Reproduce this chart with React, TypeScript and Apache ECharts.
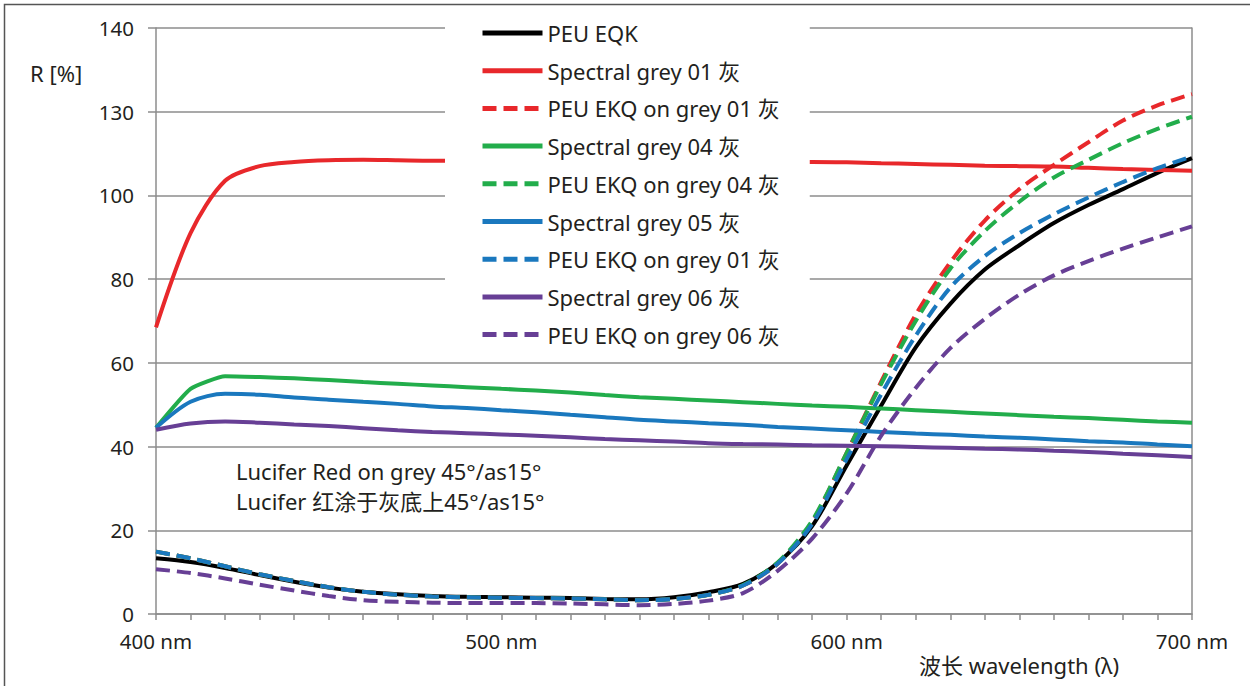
import React, { useEffect, useRef } from "react";
import * as echarts from "echarts";

const wavelengths = [400, 410, 420, 430, 440, 450, 460, 470, 480, 490, 500, 510, 520, 530, 540, 550, 560, 570, 580, 590, 600, 610, 620, 630, 640, 650, 660, 670, 680, 690, 700];

const peuEqk = [13.3, 12.4, 11.0, 9.3, 7.7, 6.3, 5.3, 4.7, 4.3, 4.1, 4.0, 3.9, 3.8, 3.6, 3.5, 4.0, 5.2, 7.2, 12.2, 21.0, 35.5, 49.8, 63.7, 74.1, 82.3, 88.1, 93.4, 97.7, 101.5, 105.4, 108.9];
const spectral01 = [68.5, 91.0, 103.5, 107.0, 108.0, 108.4, 108.5, 108.4, 108.3, 108.3, 108.3, 108.3, 108.2, 108.2, 108.2, 108.1, 108.1, 108.1, 108.0, 108.0, 107.9, 107.7, 107.5, 107.3, 107.1, 107.0, 106.9, 106.6, 106.3, 106.1, 105.9];
const peuOnGrey01 = [14.9, 13.3, 11.4, 9.5, 7.9, 6.4, 5.3, 4.6, 4.2, 4.0, 3.9, 3.8, 3.7, 3.5, 3.3, 3.6, 4.6, 6.8, 12.0, 22.0, 38.5, 55.5, 71.5, 84.0, 94.0, 101.5, 107.3, 112.7, 117.9, 121.5, 124.2];
const spectral04 = [44.5, 53.8, 56.8, 56.6, 56.3, 55.9, 55.4, 55.0, 54.6, 54.2, 53.8, 53.4, 52.9, 52.3, 51.8, 51.4, 51.0, 50.6, 50.2, 49.8, 49.5, 49.1, 48.7, 48.3, 47.9, 47.5, 47.1, 46.8, 46.4, 46.0, 45.7];
const peuOnGrey04 = [14.9, 13.3, 11.4, 9.5, 7.9, 6.4, 5.3, 4.6, 4.2, 4.0, 3.9, 3.8, 3.7, 3.5, 3.3, 3.6, 4.6, 6.9, 12.3, 22.3, 38.5, 55.0, 70.0, 82.5, 91.5, 98.5, 104.3, 108.5, 112.5, 115.9, 118.8];
const spectral05 = [44.5, 50.7, 52.6, 52.4, 51.7, 51.2, 50.7, 50.2, 49.6, 49.2, 48.7, 48.2, 47.6, 47.0, 46.4, 46.0, 45.6, 45.2, 44.7, 44.3, 43.9, 43.5, 43.1, 42.8, 42.4, 42.1, 41.7, 41.3, 41.0, 40.5, 40.1];
const peuOnGrey01b = [14.9, 13.3, 11.4, 9.5, 7.9, 6.4, 5.3, 4.6, 4.2, 4.0, 3.9, 3.8, 3.7, 3.5, 3.3, 3.6, 4.6, 6.8, 12.0, 21.5, 37.0, 52.5, 66.5, 78.0, 85.5, 91.0, 95.5, 99.5, 103.2, 106.5, 109.3];
const spectral06 = [44.0, 45.5, 46.0, 45.7, 45.3, 44.9, 44.4, 43.9, 43.5, 43.2, 42.9, 42.6, 42.2, 41.8, 41.5, 41.2, 40.8, 40.6, 40.5, 40.3, 40.2, 40.1, 39.9, 39.7, 39.5, 39.3, 39.0, 38.7, 38.3, 37.9, 37.5];
const peuOnGrey06 = [10.7, 9.8, 8.5, 7.0, 5.6, 4.3, 3.3, 2.9, 2.7, 2.6, 2.6, 2.6, 2.5, 2.3, 2.1, 2.4, 3.2, 5.0, 10.3, 18.0, 28.8, 42.6, 54.0, 63.5, 70.5, 76.3, 80.9, 84.3, 87.3, 90.0, 92.6];

const seriesNames = [
  "PEU EQK",
  "Spectral grey 01 灰",
  "PEU EKQ on grey 01 灰",
  "Spectral grey 04 灰",
  "PEU EKQ on grey 04 灰",
  "Spectral grey 05 灰",
  "PEU EKQ on grey 01 灰 ",
  "Spectral grey 06 灰",
  "PEU EKQ on grey 06 灰",
];

const yTickLabels = ["0", "20", "40", "60", "80", "100", "130", "140"];
const xTickLabels = ["400 nm", "500 nm", "600 nm", "700 nm"];

const FONT = '"Noto Sans", "Noto Sans CJK SC", sans-serif';
const FS = 20.5;
const FS2 = 22;
const TEXT = "#231f20";
const GRID = "#8c8c8c";

export default function App() {
  const ref = useRef<HTMLDivElement>(null);
  useEffect(() => {
    if (!ref.current) return;
    const chart = echarts.init(ref.current, undefined, { renderer: "svg" });
    const mk = (name: string, vals: number[], color: string, dashed: boolean, smooth = 0.3) => ({
      name,
      type: "line",
      data: wavelengths.map((w, i) => [w, vals[i]]),
      smooth,
      symbol: "none",
      showSymbol: false,
      lineStyle: { color, width: 4, type: dashed ? [14, 7] : "solid", cap: "butt" },
      itemStyle: { color },
    });
    chart.setOption({
      animation: false,
      backgroundColor: "#fff",
      textStyle: { fontFamily: FONT },
      grid: { left: 156, right: 58, top: 28, bottom: 72, containLabel: false },
      legend: {
        orient: "vertical",
        left: 445,
        top: 11,
        padding: [11, 30, 12, 35],
        backgroundColor: "#fff",
        itemWidth: 60,
        itemHeight: 14,
        itemGap: 15.7,
        selectedMode: false,
        data: seriesNames,
        formatter: (n: string) => n.trim(),
        itemStyle: { opacity: 0, borderWidth: 0 },
        lineStyle: { width: 5, type: "inherit" },
        textStyle: { fontSize: FS2, color: TEXT, fontFamily: FONT, lineHeight: 22 },
      },
      xAxis: {
        type: "value",
        min: 400,
        max: 700,
        interval: 100,
        axisLine: { show: true, lineStyle: { color: GRID, width: 1.5 } },
        axisTick: { show: true, length: 6, lineStyle: { color: GRID, width: 1.5 } },
        minorTick: { show: true, splitNumber: 10, length: 6, lineStyle: { color: GRID, width: 1.5 } },
        splitLine: { show: false },
        axisLabel: {
          fontSize: FS,
          color: TEXT,
          fontFamily: FONT,
          margin: 17,
          formatter: (v: number) => xTickLabels[Math.round((v - 400) / 100)] ?? "",
        },
      },
      yAxis: [
        {
          type: "value",
          min: 0,
          max: 140,
          interval: 20,
          axisLine: { show: true, lineStyle: { color: GRID, width: 1.5 } },
          axisTick: { show: true, length: 8, lineStyle: { color: GRID, width: 1.5 } },
          splitLine: { show: true, lineStyle: { color: GRID, width: 1.5 } },
          axisLabel: {
            fontSize: FS,
            color: TEXT,
            fontFamily: FONT,
            margin: 22,
            formatter: (v: number) => yTickLabels[Math.round(v / 20)] ?? "",
          },
        },
        {
          type: "value",
          position: "right",
          min: 0,
          max: 140,
          interval: 20,
          axisLine: { show: true, lineStyle: { color: GRID, width: 1.5 } },
          axisTick: { show: false },
          splitLine: { show: false },
          axisLabel: { show: false },
        },
      ],
      series: [
        mk(seriesNames[0], peuEqk, "#000000", false),
        mk(seriesNames[1], spectral01, "#e8282b", false),
        mk(seriesNames[2], peuOnGrey01, "#e8282b", true),
        mk(seriesNames[3], spectral04, "#22ad4b", false, 0.15),
        mk(seriesNames[4], peuOnGrey04, "#22ad4b", true),
        mk(seriesNames[5], spectral05, "#1a78be", false),
        mk(seriesNames[6], peuOnGrey01b, "#1a78be", true),
        mk(seriesNames[7], spectral06, "#673f95", false),
        mk(seriesNames[8], peuOnGrey06, "#673f95", true),
      ],
      graphic: [
        {
          type: "rect",
          shape: { x: 4.5, y: 4.5, width: 1400, height: 800 },
          style: { fill: "none", stroke: "#555", lineWidth: 1.5 },
          silent: true,
          z: 0,
        },
        {
          type: "text",
          x: 30,
          y: 73,
          style: { text: "R [%]", fontSize: FS2, fill: TEXT, fontFamily: FONT, verticalAlign: "middle" },
        },
        {
          type: "text",
          x: 236,
          y: 471,
          style: { text: "Lucifer Red on grey 45°/as15°", fontSize: FS2, fill: TEXT, fontFamily: FONT, verticalAlign: "middle" },
        },
        {
          type: "text",
          x: 236,
          y: 501,
          style: { text: "Lucifer 红涂于灰底上45°/as15°", fontSize: FS2, fill: TEXT, fontFamily: FONT, verticalAlign: "middle" },
        },
        {
          type: "text",
          x: 1019,
          y: 665,
          style: { text: "波长 wavelength (λ)", fontSize: FS2, fill: TEXT, fontFamily: FONT, align: "center", verticalAlign: "middle" },
        },
      ],
    });
    return () => chart.dispose();
  }, []);
  return (
    <div
      ref={ref}
      style={{ position: "fixed", left: 0, top: 0, width: 1250, height: 686, background: "#fff" }}
    />
  );
}
